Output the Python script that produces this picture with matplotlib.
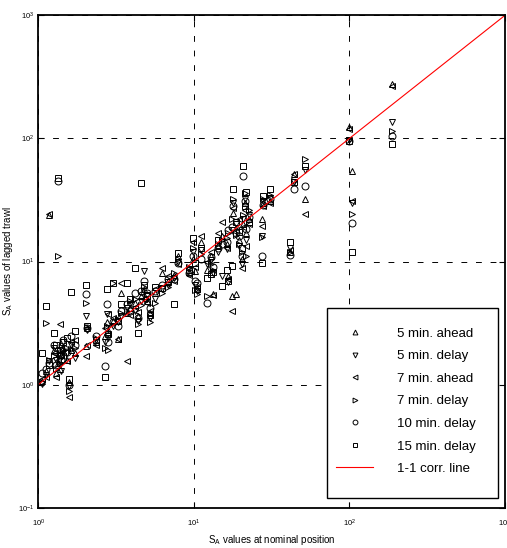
import numpy as np
import matplotlib
matplotlib.use('Agg')
import matplotlib.pyplot as plt
from matplotlib.patches import Rectangle

plt.rcParams['font.family'] = ['Liberation Sans', 'DejaVu Sans']
plt.rcParams['mathtext.fontset'] = 'custom'
plt.rcParams['mathtext.rm'] = 'Liberation Sans'
plt.rcParams['mathtext.it'] = 'Liberation Sans'

# S_A at nominal position (one entry per haul)
x_nominal = [1.05, 1.12, 1.17, 1.27, 1.30, 1.34, 1.38, 1.41, 1.45, 1.52,
             1.58, 1.63, 1.72, 2.02, 2.07, 2.35, 2.70, 2.75, 2.80, 3.04,
             3.26, 3.39, 3.70, 3.90, 4.18, 4.40, 4.55, 4.78, 5.0, 5.2,
             5.6, 6.23, 6.8, 7.5, 7.94, 9.3, 9.9, 10.2, 10.5, 11.2,
             12.1, 12.9, 13.3, 14.3, 15.2, 16.3, 16.7, 17.7, 17.9, 18.8,
             19.5, 20.3, 20.8, 21.3, 21.6, 22.5, 27.3, 27.8, 30.9, 41.5,
             44.0, 51.9, 100, 104, 187]

# S_A of the lagged trawl, one list per lag
ahead_5 = [1.08, 1.30, 24.0, 1.9, 1.25, 1.5, 1.35, 1.75, 2.0, 1.6,
           1.05, 1.9, 1.8, 2.06, 2.9, 2.2, 2.5, 3.2, 2.8, 3.3,
           2.33, 5.53, 3.8, 4.2, 4.6, 3.6, 5.2, 6.0, 4.8, 3.8,
           5.5, 8.1, 7.0, 7.8, 11.0, 8.2, 10.5, 8.3, 6.0, 14.3,
           8.5, 11.0, 5.4, 13.5, 16.0, 14.0, 7.6, 5.25, 25.0, 5.4,
           15.0, 10.4, 20.0, 30.0, 17.0, 22.0, 22.0, 30.0, 31.0, 12.0,
           51.0, 32.0, 125, 54.5, 276]
delay_5 = [1.02, 1.20, 1.55, 2.0, 1.60, 1.7, 1.45, 1.3, 2.2, 1.8,
           0.97, 2.1, 1.65, 3.6, 2.8, 2.3, 2.2, 3.72, 2.4, 3.0,
           3.2, 3.6, 4.2, 4.5, 4.0, 3.3, 4.8, 8.4, 5.3, 3.5,
           5.0, 6.0, 6.5, 7.4, 10.0, 8.7, 12.0, 6.5, 5.8, 12.5,
           9.5, 10.2, 8.0, 12.0, 7.6, 12.6, 6.8, 18.0, 30.0, 20.0,
           13.3, 9.5, 22.0, 32.0, 15.0, 24.0, 16.0, 31.0, 33.0, 13.0,
           44.0, 55.0, 98, 30.0, 136]
ahead_7 = [1.12, 1.15, 24.5, 1.8, 1.15, 1.6, 3.09, 2.0, 1.7, 1.55,
           0.80, 2.2, 2.3, 1.72, 2.1, 2.1, 2.9, 2.6, 3.72, 3.5,
           2.33, 6.74, 1.55, 3.7, 4.3, 3.9, 5.5, 5.0, 4.6, 4.0,
           6.0, 8.9, 7.6, 7.0, 9.5, 7.8, 14.5, 9.0, 6.2, 16.0,
           10.0, 12.0, 5.3, 17.0, 20.8, 13.0, 7.2, 3.96, 27.0, 18.0,
           22.0, 8.9, 19.0, 26.0, 13.3, 20.0, 19.4, 28.0, 30.0, 12.5,
           51.0, 24.3, 120, 31.0, 265]
delay_7 = [1.05, 3.19, 1.60, 1.7, 1.35, 11.1, 1.5, 1.8, 1.9, 2.0,
           0.88, 1.95, 2.0, 4.6, 2.95, 2.4, 2.0, 3.0, 1.9, 6.66,
           3.4, 3.8, 4.0, 4.8, 5.0, 3.1, 4.4, 6.2, 5.0, 3.2,
           4.6, 5.5, 6.2, 8.0, 10.5, 9.0, 13.0, 5.9, 5.4, 11.5,
           5.2, 9.5, 8.5, 14.0, 15.0, 15.5, 17.0, 22.0, 32.0, 16.5,
           14.0, 12.0, 24.0, 36.0, 11.0, 26.0, 15.8, 32.0, 35.0, 11.9,
           45.0, 67.6, 97, 24.3, 115]
delay_10 = [1.25, 1.33, 1.50, 2.1, 1.45, 45.0, 1.7, 1.6, 2.3, 1.85,
            1.0, 2.5, 2.1, 5.42, 2.9, 2.5, 1.42, 4.5, 2.2, 3.2,
            3.0, 4.0, 4.5, 4.0, 5.5, 3.5, 5.8, 7.0, 5.6, 4.2,
            5.8, 6.5, 7.2, 7.2, 9.8, 8.0, 11.0, 7.0, 6.7, 10.5,
            4.6, 10.8, 9.0, 13.0, 14.0, 14.5, 18.0, 19.0, 28.0, 17.0,
            16.0, 11.0, 49.7, 31.0, 18.5, 23.0, 11.1, 29.0, 32.0, 11.4,
            38.6, 41.0, 96, 20.5, 105]
delay_15 = [1.82, 4.35, 1.45, 2.64, 2.1, 48.0, 1.9, 1.75, 2.2, 2.4,
            1.12, 5.66, 2.73, 6.5, 3.0, 2.3, 1.16, 5.95, 2.6, 6.66,
            3.3, 4.5, 6.74, 5.0, 8.9, 2.64, 43.4, 6.5, 5.2, 3.7,
            6.2, 6.1, 6.8, 4.5, 11.8, 8.5, 15.5, 9.8, 6.0, 13.0,
            7.4, 7.9, 8.2, 15.0, 6.3, 8.6, 7.0, 9.2, 38.6, 21.0,
            17.5, 13.0, 59.4, 28.0, 36.7, 21.0, 9.8, 34.1, 38.6, 14.3,
            44.0, 60.0, 95, 11.9, 89.6]

series = [
    (ahead_5, '^', '5 min. ahead'),
    (delay_5, 'v', '5 min. delay'),
    (ahead_7, '<', '7 min. ahead'),
    (delay_7, '>', '7 min. delay'),
    (delay_10, 'o', '10 min. delay'),
    (delay_15, 's', '15 min. delay'),
]

fig = plt.figure(figsize=(5.07, 5.48), dpi=100)
ax = fig.add_axes([0.0755, 0.0735, 0.9205, 0.8985])

for y, m, lab in series:
    ax.plot(x_nominal, y, linestyle='none', marker=m, markersize=5,
            markerfacecolor='none', markeredgecolor='black',
            markeredgewidth=0.7, label=lab)

ax.plot([1, 1000], [1, 1000], color='red', linewidth=0.8, label='1-1 corr. line')

ax.set_xscale('log')
ax.set_yscale('log')
ax.set_xlim(1, 1000)
ax.set_ylim(0.1, 1000)

ax.grid(True, which='major', linestyle=(0, (6, 9)), color='black', linewidth=0.7)
ax.minorticks_off()
ax.tick_params(which='major', direction='in', length=4, width=0.8,
               labelsize=5.5, top=True, right=True)
ax.tick_params(axis='x', pad=7)
ax.tick_params(axis='y', pad=3)
for s in ax.spines.values():
    s.set_linewidth(1.3)

ax.set_xlabel(r'S$_\mathregular{A}$ values at nominal position', fontsize=7, labelpad=3)
ax.set_ylabel(r'S$_\mathregular{A}$ values of lagged trawl', fontsize=7)
ax.yaxis.set_label_coords(-0.05, 0.5)

# legend box drawn by hand so the padding matches
ax.add_patch(Rectangle((0.618, 0.020), 0.368, 0.385, transform=ax.transAxes,
                       facecolor='white', edgecolor='black', linewidth=1.0,
                       zorder=5))
leg = ax.legend(loc='center left', bbox_to_anchor=(0.638, 0.216), fontsize=9.5,
                markerscale=0.7, labelspacing=0.78, handlelength=2.8,
                handletextpad=1.8, borderpad=0, borderaxespad=0,
                frameon=False)
leg.set_zorder(6)

fig.savefig('out.png', dpi=100)
